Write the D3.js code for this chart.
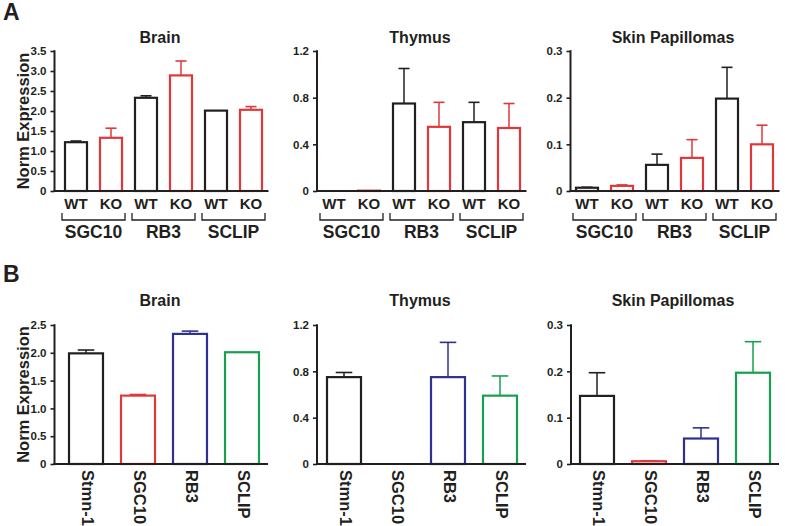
<!DOCTYPE html>
<html><head><meta charset="utf-8">
<script src="https://cdn.jsdelivr.net/npm/d3@7"></script>
<style>body{margin:0;background:#fff}svg{display:block;font-family:"Liberation Sans",Arial,Helvetica,sans-serif}</style>
</head><body><svg id="c" width="785" height="526"></svg>
<script>
// ---- Data ----
const genesA = ["SGC10","RB3","SCLIP"];
const genotypes = ["WT","KO"];
const brainA = [1.22,1.33,2.33,2.89,2.01,2.03];
const brainAErr = [1.25,1.57,2.38,3.25,2.01,2.11];
const thymusA = [0,0.003,0.75,0.55,0.59,0.54];
const thymusAErr = [0,0.003,1.05,0.76,0.76,0.75];
const skinA = [0.007,0.011,0.056,0.071,0.198,0.10];
const skinAErr = [0.008,0.013,0.079,0.11,0.265,0.141];

const genesB = ["Stmn-1","SGC10","RB3","SCLIP"];
const brainB = [1.99,1.23,2.34,2.01];
const brainBErr = [2.05,1.25,2.39,2.01];
const thymusB = [0.75,0,0.75,0.59];
const thymusBErr = [0.79,0,1.05,0.76];
const skinB = [0.147,0.006,0.055,0.197];
const skinBErr = [0.197,0.007,0.078,0.264];

const brainTicks = ["0","0.5","1.0","1.5","2.0","2.5","3.0","3.5"];
const brainBTicks = ["0","0.5","1.0","1.5","2.0","2.5"];
const thymusTicks = ["0","0.4","0.8","1.2"];
const skinTicks = ["0","0.1","0.2","0.3"];

const colBlack = "#231f20", colRed = "#e0383a", colBlue = "#2e3192", colGreen = "#17a04f";
const colorsA = [colBlack,colRed,colBlack,colRed,colBlack,colRed];
const colorsB = [colBlack,colRed,colBlue,colGreen];

const svg = d3.select("#c");

function panel(o){
  const g = svg.append("g");
  const y = d3.scaleLinear().domain([0,o.max]).range([o.y0,o.y1]);
  const x = d3.scaleBand().domain(o.cats).range(o.xr).paddingInner(o.pi).paddingOuter(o.pi/2);
  // y axis
  const ya = d3.axisLeft(y).tickValues(o.ticks.map(Number)).tickFormat((d,i)=>o.ticks[i]).tickSize(4).tickPadding(4);
  const ag = g.append("g").attr("transform",`translate(${o.ax},0)`).call(ya);
  ag.select(".domain").remove();
  ag.selectAll("line").attr("stroke",colBlack).attr("stroke-width",1.6);
  ag.selectAll("text").attr("font-size",11.5).attr("font-weight","bold").attr("fill",colBlack);
  g.append("line").attr("x1",o.ax).attr("x2",o.ax).attr("y1",y(0)).attr("y2",y(o.max)-0.8).attr("stroke",colBlack).attr("stroke-width",2);
  // bars
  const bw = x.bandwidth();
  o.vals.forEach((v,i)=>{
    const c = o.cats[i], col = o.colors[i];
    const cx = x(c)+bw/2;
    if (o.err[i] > v) {
      g.append("line").attr("x1",cx).attr("x2",cx).attr("y1",y(v)).attr("y2",y(o.err[i])).attr("stroke",col).attr("stroke-width",1.5);
      g.append("line").attr("x1",cx-bw*0.23).attr("x2",cx+bw*0.23).attr("y1",y(o.err[i])).attr("y2",y(o.err[i])).attr("stroke",col).attr("stroke-width",1.6);
    }
    if (v > 0) {
      g.append("rect").attr("x",x(c)+1).attr("y",y(v)).attr("width",bw-2).attr("height",Math.max(0,y(0)-y(v)))
        .attr("fill","#fff").attr("stroke",col).attr("stroke-width",2.2);
    }
  });
  // x axis line
  g.append("line").attr("x1",o.ax-1).attr("x2",o.xr[1]).attr("y1",y(0)).attr("y2",y(0)).attr("stroke",colBlack).attr("stroke-width",2.2);
  // title
  g.append("text").attr("x",o.tx).attr("y",o.ty).attr("text-anchor","middle").attr("font-size",16).attr("font-weight","bold").attr("fill",colBlack).text(o.title);
  if (o.type === "A") {
    o.cats.forEach((c,i)=>{
      g.append("text").attr("x",x(c)+bw/2).attr("y",o.y0+18).attr("text-anchor","middle").attr("font-size",15).attr("font-weight","bold").attr("fill",colBlack).text(genotypes[i%2]);
    });
    genesA.forEach((gn,j)=>{
      const a = x(o.cats[2*j])-2, b = x(o.cats[2*j+1])+bw+2;
      g.append("path").attr("d",`M${a},${o.y0+22}V${o.y0+29}H${b}V${o.y0+22}`).attr("fill","none").attr("stroke",colBlack).attr("stroke-width",1.3);
      g.append("text").attr("x",(a+b)/2).attr("y",o.y0+47).attr("text-anchor","middle").attr("font-size",17.5).attr("font-weight","bold").attr("fill",colBlack).text(gn);
    });
  } else {
    o.cats.forEach((c,i)=>{
      const cx = x(c)+bw/2+1.5;
      g.append("text").attr("transform",`translate(${cx},${o.y0+6}) rotate(90)`).attr("dominant-baseline","central")
        .attr("font-size",16.5).attr("font-weight","bold").attr("fill",colBlack).text(c);
    });
  }
  if (o.ylab) {
    g.append("text").attr("transform",`translate(29,${(o.y0+o.y1)/2}) rotate(-90)`).attr("text-anchor","middle")
      .attr("font-size",16.5).attr("font-weight","bold").attr("fill",colBlack).text("Norm Expression");
  }
}

const catsA = ["SGC10 WT","SGC10 KO","RB3 WT","RB3 KO","SCLIP WT","SCLIP KO"];
panel({type:"A",cats:catsA,vals:brainA,err:brainAErr,colors:colorsA,max:3.5,ticks:brainTicks,y0:191,y1:51,ax:54.5,xr:[58.5,268.5],pi:0.314,title:"Brain",tx:160,ty:43,ylab:true});
panel({type:"A",cats:catsA,vals:thymusA,err:thymusAErr,colors:colorsA,max:1.2,ticks:thymusTicks,y0:191,y1:51,ax:317,xr:[316.5,526.5],pi:0.314,title:"Thymus",tx:420,ty:43});
panel({type:"A",cats:catsA,vals:skinA,err:skinAErr,colors:colorsA,max:0.3,ticks:skinTicks,y0:191,y1:51,ax:570.5,xr:[569.5,779.5],pi:0.314,title:"Skin Papillomas",tx:673,ty:43});

panel({type:"B",cats:genesB,vals:brainB,err:brainBErr,colors:colorsB,max:2.5,ticks:brainBTicks,y0:464,y1:325,ax:54.5,xr:[60,268],pi:0.308,title:"Brain",tx:160,ty:306,ylab:true});
panel({type:"B",cats:genesB,vals:thymusB,err:thymusBErr,colors:colorsB,max:1.2,ticks:thymusTicks,y0:464,y1:325,ax:317,xr:[318,526],pi:0.308,title:"Thymus",tx:420,ty:306});
panel({type:"B",cats:genesB,vals:skinB,err:skinBErr,colors:colorsB,max:0.3,ticks:skinTicks,y0:464,y1:325,ax:571,xr:[571,779],pi:0.308,title:"Skin Papillomas",tx:673,ty:306});

svg.append("text").attr("x",3).attr("y",20).attr("font-size",23).attr("font-weight","bold").attr("fill",colBlack).text("A");
svg.append("text").attr("x",3).attr("y",282).attr("font-size",23).attr("font-weight","bold").attr("fill",colBlack).text("B");
</script></body></html>
